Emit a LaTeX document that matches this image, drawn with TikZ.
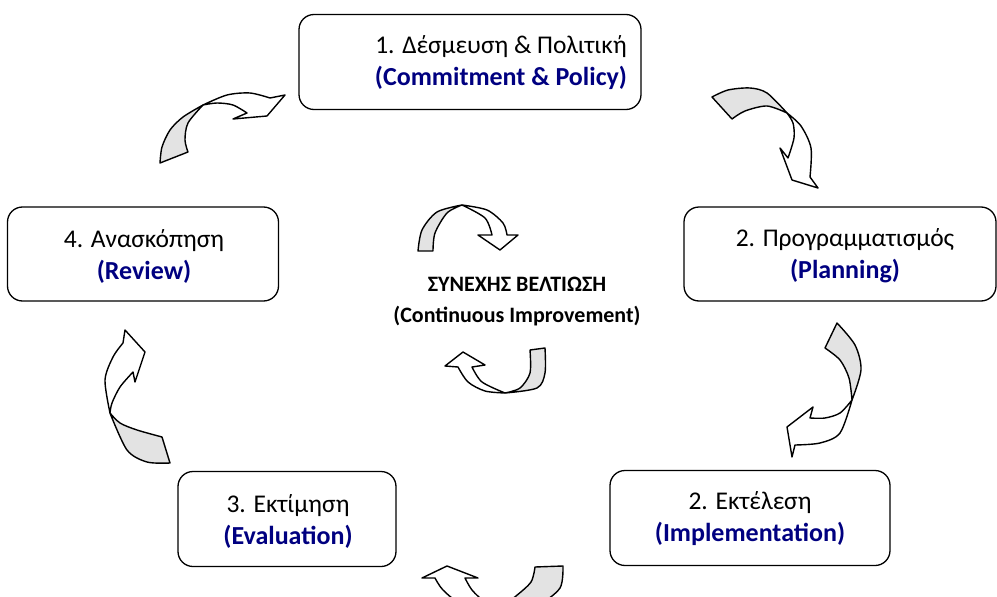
\documentclass[tikz,border=0pt]{standalone}
\usepackage{fontspec}
\setmainfont{Carlito}
\usepackage{xcolor}
\definecolor{azul}{RGB}{0,0,128}

\begin{document}
\begin{tikzpicture}[x=1pt, y=-1pt,
    caja/.style={draw, line width=1.3pt, rounded corners=15pt, inner sep=0pt},
    texto/.style={font=\fontsize{25.5}{32}\selectfont, align=center, inner sep=0pt},
    cinta/.style={draw, fill=gray!22, line width=1.4pt, line join=round},
    punta/.style={draw, fill=white, line width=1.4pt, line join=round}]
				%Marco
				\useasboundingbox (0,0) rectangle (997,597);
				\clip (0,0) rectangle (997,597);
				%Cajas
				\node[caja, minimum width=342pt, minimum height=95pt] (compromiso) at (470,62) {};
				\node[texto] (compromisotxt) at (501,63) {1. Δέσμευση \& Πολιτική\\\textcolor{azul}{\fontsize{26}{32}\selectfont\bfseries (Commitment \& Policy)}};
				\node[caja, minimum width=312pt, minimum height=94pt] (plan) at (840,254) {};
				\node[texto] (plantxt) at (845,256) {2. Προγραμματισμός\\\textcolor{azul}{\fontsize{26}{32}\selectfont\bfseries (Planning)}};
				\node[caja, minimum width=280pt, minimum height=95pt] (ejecucion) at (750,518) {};
				\node[texto] (ejecuciontxt) at (750,519) {2. Εκτέλεση\\\textcolor{azul}{\fontsize{26}{32}\selectfont\bfseries (Implementation)}};
				\node[caja, minimum width=218pt, minimum height=95pt] (evaluacion) at (287,519) {};
				\node[texto] (evaluaciontxt) at (288,521) {3. Εκτίμηση\\\textcolor{azul}{\fontsize{26}{32}\selectfont\bfseries (Evaluation)}};
				\node[caja, minimum width=271pt, minimum height=94pt] (revision) at (143,254) {};
				\node[texto] (revisiontxt) at (144,256) {4. Ανασκόπηση\\\textcolor{azul}{\fontsize{26}{32}\selectfont\bfseries (Review)}};
				%Centro
				\node[texto, font=\fontsize{22}{31}\selectfont\bfseries] (mejora) at (517,302) {ΣΥΝΕΧΗΣ ΒΕΛΤΙΩΣΗ\\(Continuous Improvement)};

				%Flecha 1 -> 2
				\filldraw[cinta] (712,97) -- plot[smooth] coordinates {(732,119) (745,111) (767,106) (787,113)}
				  -- plot[smooth] coordinates {(787,113) (767,93) (750,88) (728,90) (712,97)} -- cycle;
				\filldraw[punta] (787,113) -- plot[smooth] coordinates {(787,113) (801,126) (811,148) (810,177)}
				  -- (818,188) -- (792,180) -- (780,148) -- (788,158)
				  -- plot[smooth] coordinates {(788,158) (794,138) (793,123) (787,113)} -- cycle;
				%Flecha 2 -> 2
				\filldraw[cinta] (825,348) -- (837,323) -- plot[smooth] coordinates {(837,323) (855,345) (861,370) (852,400)}
				  -- plot[smooth] coordinates {(852,400) (849,378) (840,360) (825,348)} -- cycle;
				\filldraw[punta] (852,400) -- plot[smooth] coordinates {(852,400) (840,413) (825,418) (810,418)}
				  -- (813,407) -- (787,427) -- (792,457) -- (795,445)
				  -- plot[smooth] coordinates {(795,445) (820,443) (840,433) (852,400)} -- cycle;
				%Flecha 2 -> 3
				\filldraw[cinta] (535,567) -- (563,566) -- plot[smooth] coordinates {(563,566) (560,588) (538,604) (500,608)}
				  -- plot[smooth] coordinates {(500,608) (516,596) (531,582) (535,567)} -- cycle;
				\filldraw[punta] (500,608) -- plot[smooth] coordinates {(500,608) (460,602) (443,590) (435,578)}
				  -- (422,578) -- (447,566) -- (478,578) -- (465,578)
				  -- plot[smooth] coordinates {(465,578) (472,590) (485,602) (500,608)} -- cycle;
				%Flecha 3 -> 4
				\filldraw[cinta] (162,437) -- (170,463) -- plot[smooth] coordinates {(170,463) (147,462) (127,450) (110,413)}
				  -- plot[smooth] coordinates {(110,413) (120,423) (137,430) (162,437)} -- cycle;
				\filldraw[punta] (110,413) -- plot[smooth] coordinates {(110,413) (105,380) (113,357) (123,343)}
				  -- (125,330) -- (145,352) -- (135,382) -- (133,372)
				  -- plot[smooth] coordinates {(133,372) (120,387) (112,403) (110,413)} -- cycle;
				%Flecha 4 -> 1
				\filldraw[cinta] (160,163) -- (188,152) -- plot[smooth] coordinates {(188,152) (185,140) (188,123) (203,105)}
				  -- plot[smooth] coordinates {(203,105) (183,117) (170,130) (162,147) (160,163)} -- cycle;
				\filldraw[punta] (203,105) -- plot[smooth] coordinates {(203,105) (227,95) (250,93) (270,98)}
				  -- (285,95) -- (267,116) -- (233,119) -- (247,113)
				  -- plot[smooth] coordinates {(247,113) (233,105) (217,103) (203,105)} -- cycle;
				%Flechas del centro
				\filldraw[cinta] (418,251) -- (433,251) -- plot[smooth] coordinates {(433,251) (435,233) (447,213) (462,205)}
				  -- plot[smooth] coordinates {(462,205) (437,212) (422,230) (418,251)} -- cycle;
				\filldraw[punta] (462,205) -- plot[smooth] coordinates {(462,205) (487,210) (503,223) (507,235)}
				  -- (518,235) -- (500,250) -- (478,235) -- (492,235)
				  -- plot[smooth] coordinates {(492,235) (485,218) (462,205)} -- cycle;
				\filldraw[cinta] (530,350) -- (545,348) -- plot[smooth] coordinates {(545,348) (545,373) (537,388) (505,393)}
				  -- plot[smooth] coordinates {(505,393) (520,388) (530,373) (530,350)} -- cycle;
				\filldraw[punta] (505,393) -- plot[smooth] coordinates {(505,393) (485,391) (468,382) (458,367)}
				  -- (445,366) -- (463,352) -- (485,365) -- (472,367)
				  -- plot[smooth] coordinates {(472,367) (482,382) (505,393)} -- cycle;
\end{tikzpicture}
\end{document}
